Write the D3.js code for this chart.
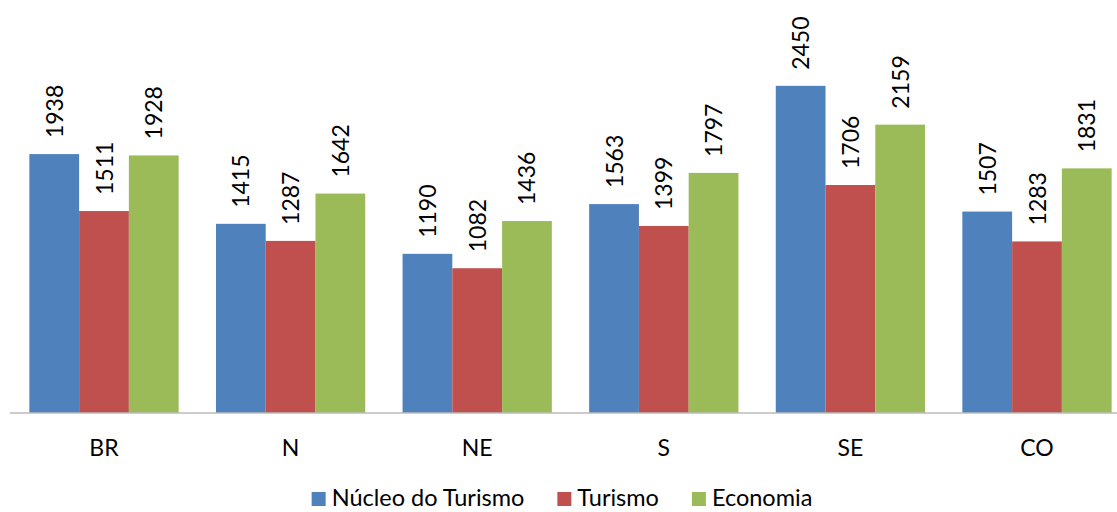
<!DOCTYPE html>
<html>
<head>
<meta charset="utf-8">
<script src="https://cdn.jsdelivr.net/npm/d3@7"></script>
<style>
  body { margin: 0; background: #fff; }
  svg { display: block; }
  text { font-family: Lato, "Open Sans", sans-serif; fill: #000; }
</style>
</head>
<body>
<div class="chart-box"></div>
<script>
let width = 1117;
let height = 512;

// data
let regions = ["BR", "N", "NE", "S", "SE", "CO"];
let seriesNames = ["Núcleo do Turismo", "Turismo", "Economia"];
let nucleo = [1938, 1415, 1190, 1563, 2450, 1507];
let turismo = [1511, 1287, 1082, 1399, 1706, 1283];
let economia = [1928, 1642, 1436, 1797, 2159, 1831];
let colors = ["#4F81BD", "#C0504D", "#9BBB59"];

let rows = regions.map(function (r, i) {
  return { region: r, values: [nucleo[i], turismo[i], economia[i]] };
});

let svg = d3.select(".chart-box")
  .append("svg")
  .attr("width", width)
  .attr("height", height);

// plot runs a little past the right edge (the original is cropped)
let x0 = d3.scaleBand()
  .domain(regions)
  .range([10.7, 1130.3])
  .paddingInner(0.2)
  .paddingOuter(0.1);

let x1 = d3.scaleBand()
  .domain(seriesNames)
  .range([0, x0.bandwidth()]);

let y = d3.scaleLinear()
  .domain([0, 3000])
  .range([412.5, 12.5]);

let groups = svg.append("g")
  .attr("class", "groups")
  .selectAll("g")
  .data(rows)
  .enter()
  .append("g")
  .attr("transform", function (d) { return "translate(" + x0(d.region) + ",0)"; });

let cells = groups.selectAll("g.cell")
  .data(function (d) {
    return d.values.map(function (v, i) { return { name: seriesNames[i], value: v, i: i }; });
  })
  .enter()
  .append("g")
  .attr("class", "cell");

cells.append("rect")
  .attr("x", function (d) { return x1(d.name); })
  .attr("y", function (d) { return y(d.value); })
  .attr("width", x1.bandwidth())
  .attr("height", function (d) { return y(0) - y(d.value); })
  .attr("fill", function (d) { return colors[d.i]; });

// value labels, rotated
cells.append("text")
  .attr("transform", function (d) {
    let cx = x1(d.name) + x1.bandwidth() / 2;
    return "translate(" + (cx + 8.5) + "," + (y(d.value) - 16) + ") rotate(-90)";
  })
  .attr("text-anchor", "start")
  .style("font-size", "23px")
  .text(function (d) { return d.value; });

// axis line
svg.append("line")
  .attr("x1", 10)
  .attr("x2", width)
  .attr("y1", 413)
  .attr("y2", 413)
  .attr("stroke", "#9a9a9a")
  .attr("stroke-width", 1.2);

// category labels
svg.append("g")
  .selectAll("text")
  .data(regions)
  .enter()
  .append("text")
  .attr("x", function (d) { return x0(d) + x0.bandwidth() / 2; })
  .attr("y", 456)
  .attr("text-anchor", "middle")
  .style("font-size", "23px")
  .text(function (d) { return d; });

// legend (kept just inside the bottom edge)
let legend = svg.append("g").attr("class", "legend");
let lx = 0;
seriesNames.forEach(function (name, i) {
  let item = legend.append("g").attr("transform", "translate(" + lx + ",0)");
  item.append("rect")
    .attr("x", 0)
    .attr("y", 492)
    .attr("width", 14)
    .attr("height", 14)
    .attr("fill", colors[i]);
  let t = item.append("text")
    .attr("x", 20)
    .attr("y", 506)
    .style("font-size", "23.5px")
    .text(name);
  lx += 20 + t.node().getComputedTextLength() + 33;
});
let legendWidth = lx - 33;
legend.attr("transform", "translate(" + (562 - legendWidth / 2) + ",0)");
</script>
</body>
</html>
